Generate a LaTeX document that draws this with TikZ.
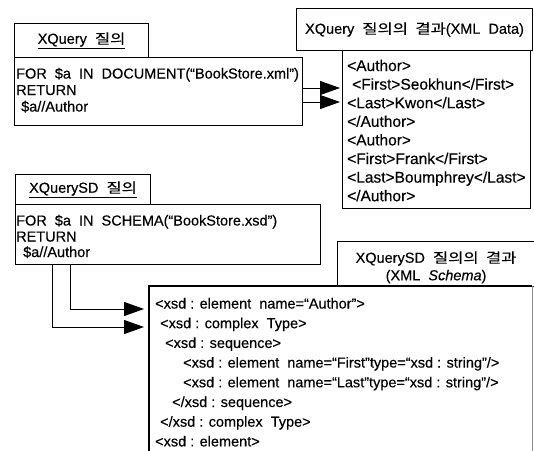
\documentclass[tikz,border=0pt]{standalone}
\usepackage{fontspec}
\setmainfont{Liberation Sans}[FakeBold=0.35]
\newfontfamily\kr{Noto Sans CJK KR}[Scale=0.95,FakeStretch=1.2,FakeBold=0.3]
\usetikzlibrary{arrows.meta,calc}
\begin{document}
\begin{tikzpicture}[x=1pt,y=-1pt,
  frame/.style={draw,line width=1.1pt,inner sep=0pt,anchor=north west},
  txt/.style={inner sep=0pt,anchor=base west,font=\fontsize{14.5}{16}\selectfont},
  restxt/.style={txt,font=\fontsize{15.5}{18}\selectfont},
  ttl/.style={inner sep=0pt,font=\fontsize{14.5}{17}\selectfont},
  arr/.style={line width=1pt,-{Triangle[length=20pt,width=14pt]}}]
\useasboundingbox[fill=white] (0,0) rectangle (534,450);

% XQuery query and its result
\node[frame,minimum width=134pt,minimum height=34pt] (t1) at (14,23) {};
\node[ttl] (t1txt) at (t1.center) {\underline{XQuery \ {\kr 질의}}};
\node[frame,minimum width=288pt,minimum height=68pt] (q1) at (14,57) {};
\node[txt] (q1a) at (16,78.5) {FOR \ \$a \ IN \ DOCUMENT(“BookStore.xml”)};
\node[txt] (q1b) at (16,95) {RETURN};
\node[txt] (q1c) at (21,111.5) {\$a//Author};

\node[frame,minimum width=236pt,minimum height=42pt] (r1t) at (296,8) {};
\node[ttl] (r1ttxt) at (r1t.center) {XQuery \ {\kr 질의의 \ 결과}(XML \ Data)};
\node[frame,minimum width=188pt,minimum height=158pt] (r1) at (342,50) {};
\node[restxt] (r1a) at (347,71) {<Author>};
\node[restxt] (r1b) at (352,89.6) {<First>Seokhun</First>};
\node[restxt] (r1c) at (347,108.2) {<Last>Kwon</Last>};
\node[restxt] (r1d) at (347,126.8) {</Author>};
\node[restxt] (r1e) at (347,145.4) {<Author>};
\node[restxt] (r1f) at (347,164) {<First>Frank</First>};
\node[restxt] (r1g) at (347,182.6) {<Last>Boumphrey</Last>};
\node[restxt] (r1h) at (347,201.2) {</Author>};

\coordinate (ya) at (0,88);
\coordinate (yb) at (0,102);
\draw[arr,shorten >=2pt] (q1.east |- ya) -- (r1.west |- ya);
\draw[arr,shorten >=2pt] (q1.east |- yb) -- (r1.west |- yb);

% XQuerySD query and its result
\node[frame,minimum width=135pt,minimum height=30pt] (t2) at (15,174) {};
\node[ttl] (t2txt) at (t2.center) {\underline{XQuerySD \ {\kr 질의}}};
\node[frame,minimum width=305pt,minimum height=60pt] (q2) at (15,204) {};
\node[txt] (q2a) at (16,225.5) {FOR \ \$a \ IN \ SCHEMA(“BookStore.xsd”)};
\node[txt] (q2b) at (16,241.5) {RETURN};
\node[txt] (q2c) at (23,257) {\$a//Author};

\node[frame,minimum width=197pt,minimum height=45pt] (r2t) at (337,241) {};
\node[ttl,anchor=center] (r2ta) at ($(r2t.center)+(0,-5.5)$) {XQuerySD \ {\kr 질의의 \ 결과}};
\node[ttl,anchor=center] (r2tb) at ($(r2t.center)+(0,12.5)$) {(XML \ \textit{Schema})};

\node[inner sep=0pt,anchor=north west,minimum width=383pt,minimum height=200pt] (xs) at (149,286) {};
\draw[line width=1.1pt] (xs.south west) -- (xs.north west) -- (xs.north east);
\draw[line width=0.6pt,black!45] (xs.north east) -- (xs.south east);
\node[txt] (xa) at (155,308.5) {<xsd : element \ name=“Author”>};
\node[txt] (xb) at (160,328.2) {<xsd : complex \ Type>};
\node[txt] (xc) at (165,347.9) {<xsd : sequence>};
\node[txt] (xd) at (183,367.6) {<xsd : element \ name=“First”type=“xsd : string”/>};
\node[txt] (xe) at (183,387.3) {<xsd : element \ name=“Last”type=“xsd : string”/>};
\node[txt] (xf) at (172,407) {</xsd : sequence>};
\node[txt] (xg) at (160,426.7) {</xsd : complex \ Type>};
\node[txt] (xh) at (155,446.4) {<xsd : element>};

\coordinate (c1) at (70,309);
\coordinate (c2) at (52,327);
\draw[arr,shorten >=5pt] (q2.south -| c1) |- (xs.west |- c1);
\draw[arr,shorten >=5pt] (q2.south -| c2) |- (xs.west |- c2);
\end{tikzpicture}
\end{document}
